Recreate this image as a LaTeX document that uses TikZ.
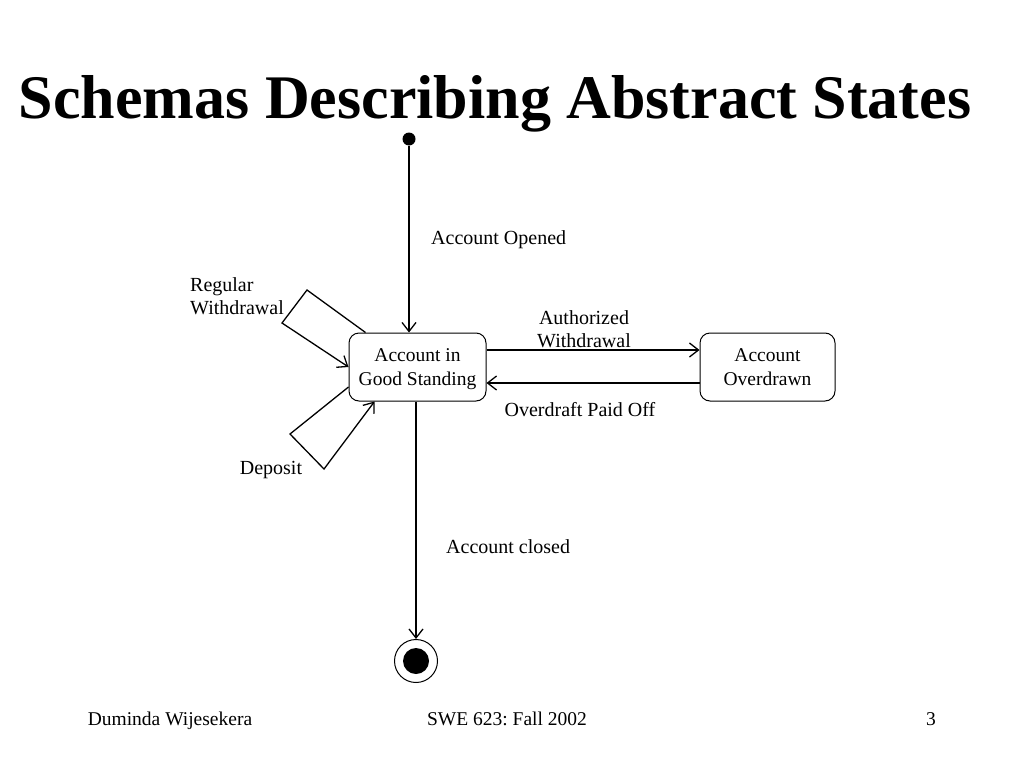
\documentclass[tikz,border=0pt]{standalone}
\usepackage{fontspec}
\setmainfont{Liberation Serif}
\frenchspacing
\usetikzlibrary{arrows.meta,positioning}

\tikzset{
    state/.style={draw, line width=1pt, rounded corners=10pt, align=center,
        font=\fontsize{19.5}{24}\selectfont, inner sep=0pt},
    trans/.style={line width=1.3pt, -{Straight Barb[length=9pt,width=14pt,line width=1.3pt]}},
    lbl/.style={font=\fontsize{20}{23}\selectfont, inner sep=0pt},
    foot/.style={font=\fontsize{19.5}{22}\selectfont, inner sep=0pt, anchor=base}
}

\begin{document}
\begin{tikzpicture}[x=1pt, y=-1pt]
                \useasboundingbox[fill=white] (0,0) rectangle (1024,768);

                % title
                \node[anchor=base, font=\fontsize{62}{70}\selectfont\bfseries, inner sep=0pt]
                    (title) at (495,118) {Schemas Describing Abstract States};

                % states
                \node[state, minimum width=137pt, minimum height=68pt] (good) at (417.5,367)
                    {Account in\\Good Standin\smash{g}};
                \node[state, minimum width=135pt, minimum height=68pt] (over) at (767.5,367)
                    {Account\\Overdrawn};

                % start and end
                \node[circle, fill=black, inner sep=0pt, minimum size=13pt] (init) at (409,139) {};
                \node[circle, draw, line width=1pt, inner sep=0pt, minimum size=43pt] (final) at (416,661) {};
                \fill (final.center) circle (13pt);

                % transitions
                \draw[trans] (init) -- (init |- good.north);
                \draw[trans] (good.south -| final) -- (final.north);
                \draw[trans] ([yshift=17pt]good.east) -- ([yshift=17pt]over.west);
                \draw[trans] ([yshift=-16pt]over.west) -- ([yshift=-16pt]good.west -| good.east);

                % self loops
                \coordinate (rw1) at (307,290);
                \coordinate (rw2) at (282,323);
                \draw[trans] ([xshift=17pt]good.north west) -- (rw1) -- (rw2) -- (good.west);
                \coordinate (dp1) at (290,434);
                \coordinate (dp2) at (324,469);
                \draw[trans] ([yshift=-20pt]good.west) -- (dp1) -- (dp2) -- ([xshift=26pt]good.south west);

                % labels
                \node[lbl, anchor=west] (opened) at (431,240) {Account Opened};
                \node[lbl, align=center] (auth) at (584,329) {Authorized\\Withdrawal};
                \node[lbl] (paid) at (580,410) {Overdraft Paid Off};
                \node[lbl, anchor=west] (closed) at (446,547) {Account closed};
                \node[lbl, align=left, anchor=west] (regular) at (190,296) {Regular\\Withdrawal};
                \node[lbl] (deposit) at (271,470) {Deposit};

                % footer
                \node[foot] (author) at (170,725) {Duminda Wijesekera};
                \node[foot] (course) at (507,725) {SWE 623: Fall 2002};
                \node[foot] (page) at (931,725) {3};

            \end{tikzpicture}
\end{document}
